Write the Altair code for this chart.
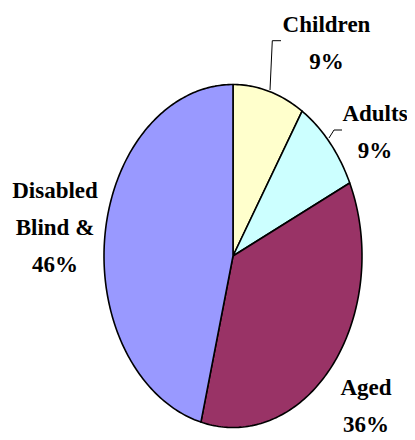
import math
import altair as alt

# ---- data ----
categories = ["Children", "Adults", "Aged", "Blind & Disabled"]
percents = [9, 9, 36, 46]
label_lines = ["Children\n9%", "Adults\n9%", "Aged\n36%", "Disabled\nBlind &\n46%"]
colors = ["#FFFFCC", "#CCFFFF", "#993366", "#9999FF"]

# ---- layout (pixels, relative to the pie centre, y down) ----
RX, RY = 129, 171.5
CX, CY = 225, 248
label_pos = [(93.5, -224), (142, -135), (133, 139), (-178, -58)]
leaders = [
    [(37, -166), (39.3, -215.3), (48, -215.3)],
    [(96, -118), (101, -126), (109, -126)],
]

total = sum(percents)
features = []
cum = 0
for cat, p in zip(categories, percents):
    t0 = cum / total * 360
    t1 = (cum + p) / total * 360
    n = max(2, int(math.ceil(t1 - t0)))
    pts = [[0, 0]]
    for i in range(n + 1):
        t = math.radians(t0 + (t1 - t0) * i / n)
        pts.append([RX * math.sin(t), -RY * math.cos(t)])
    pts.append([0, 0])
    features.append({"type": "Feature",
                     "geometry": {"type": "Polygon", "coordinates": [pts]},
                     "properties": {"cat": cat}})
    cum += p

leader_features = [{"type": "Feature",
                    "geometry": {"type": "LineString", "coordinates": [list(q) for q in l]},
                    "properties": {"id": i}} for i, l in enumerate(leaders)]

labels = [{"x": x, "y": y, "t": t} for (x, y), t in zip(label_pos, label_lines)]

slices = alt.Chart(alt.Data(values=features)).mark_geoshape(
    stroke="black", strokeWidth=1.6, strokeJoin="round"
).encode(
    color=alt.Color("properties.cat:N",
                    scale=alt.Scale(domain=categories, range=colors),
                    legend=None)
)

leader_lines = alt.Chart(alt.Data(values=leader_features)).mark_geoshape(
    filled=False, stroke="black", strokeWidth=1
)

text = alt.Chart(alt.Data(values=labels)).mark_text(
    font="Liberation Serif", fontWeight="bold", fontSize=23,
    lineHeight=37, align="center", baseline="alphabetic",
    lineBreak="\n", color="black"
).encode(
    longitude="x:Q", latitude="y:Q", text="t:N"
)

chart = alt.layer(slices, leader_lines, text).project(
    type="identity", scale=1, translate=[CX, CY]
).properties(
    width=399, height=428, padding=0, autosize=alt.AutoSizeParams(type="none")
).configure_view(stroke=None)

chart.save("out.html", embed_options={"renderer": "svg", "actions": False})
